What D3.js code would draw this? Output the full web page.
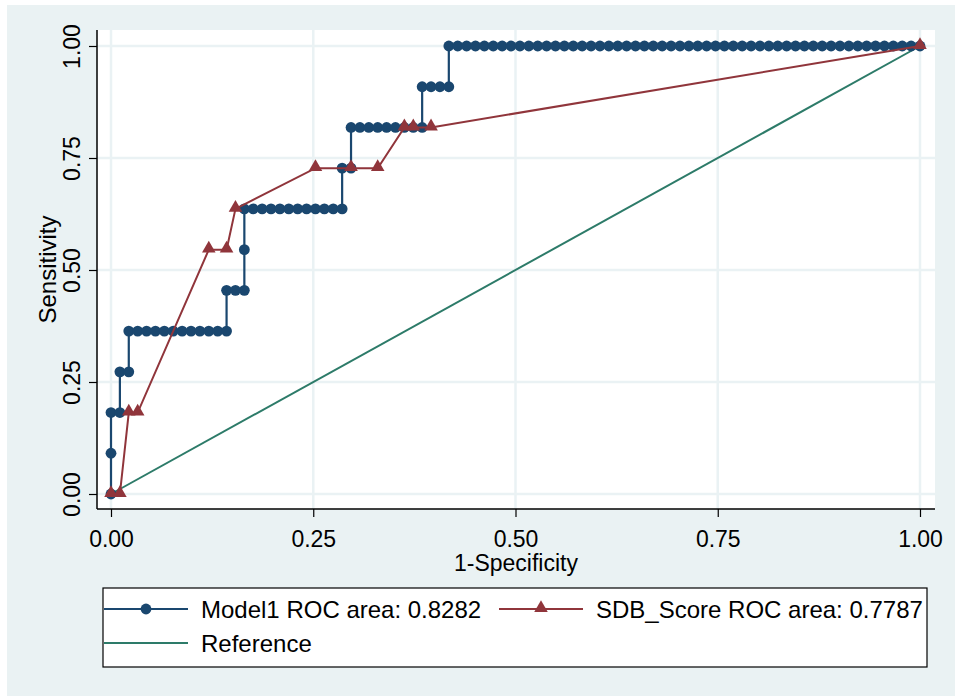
<!DOCTYPE html>
<html>
<head>
<meta charset="utf-8">
<script src="https://cdn.jsdelivr.net/npm/d3@7"></script>
<style>
  body { margin: 0; background: #fff; }
  svg text { font-family: "Liberation Sans", Arial, sans-serif; fill: #000; }
</style>
</head>
<body>
<div id="chart"></div>
<script>
// counts: 91 negatives, 11 positives
const N_NEG = 91;
const N_POS = 11;

// Model1: false positives / true positives at each cutoff
const model1FP = [0, 0, 0, 1, 1, 2, 2, 3, 4, 5, 6, 7, 8, 9, 10, 11, 12, 13, 13, 14, 15, 15, 15,
  16, 17, 18, 19, 20, 21, 22, 23, 24, 25, 26, 26, 27, 27, 28, 29, 30, 31, 32, 33, 34, 35, 35,
  36, 37, 38, 38, 39, 40, 41, 42, 43, 44, 45, 46, 47, 48, 49, 50, 51, 52, 53, 54, 55, 56, 57,
  58, 59, 60, 61, 62, 63, 64, 65, 66, 67, 68, 69, 70, 71, 72, 73, 74, 75, 76, 77, 78, 79, 80,
  81, 82, 83, 84, 85, 86, 87, 88, 89, 90, 91];
const model1TP = [0, 1, 2, 2, 3, 3, 4, 4, 4, 4, 4, 4, 4, 4, 4, 4, 4, 4, 5, 5, 5, 6, 7,
  7, 7, 7, 7, 7, 7, 7, 7, 7, 7, 7, 8, 8, 9, 9, 9, 9, 9, 9, 9, 9, 9, 10,
  10, 10, 10, 11, 11, 11, 11, 11, 11, 11, 11, 11, 11, 11, 11, 11, 11, 11, 11, 11, 11, 11, 11,
  11, 11, 11, 11, 11, 11, 11, 11, 11, 11, 11, 11, 11, 11, 11, 11, 11, 11, 11, 11, 11, 11, 11,
  11, 11, 11, 11, 11, 11, 11, 11, 11, 11, 11];

// SDB_Score
const sdbFP = [0, 1, 2, 3, 11, 13, 14, 23, 27, 30, 33, 34, 36, 91];
const sdbTP = [0, 0, 2, 2, 6, 6, 7, 8, 8, 8, 9, 9, 9, 11];

// Reference diagonal
const refX = [0, 1];
const refY = [0, 1];

const ticks = [0, 0.25, 0.5, 0.75, 1];
const legendLabels = ["Model1 ROC area: 0.8282", "SDB_Score ROC area: 0.7787", "Reference"];
const colors = { model1: "#1A476F", sdb: "#90353B", ref: "#2D7B69" };

const width = 955, height = 696;
const plot = { left: 97, right: 935, top: 30, bottom: 509 };

const svg = d3.select("#chart").append("svg")
  .attr("width", width)
  .attr("height", height);

// graph region background
svg.append("rect")
  .attr("x", 7).attr("y", 5)
  .attr("width", width - 7).attr("height", height - 5)
  .attr("fill", "#EAF2F3");

svg.append("rect")
  .attr("x", plot.left).attr("y", plot.top)
  .attr("width", plot.right - plot.left)
  .attr("height", plot.bottom - plot.top)
  .attr("fill", "#fff");

const xScale = d3.scaleLinear().domain([0, 1]).range([111, 920]);
const yScale = d3.scaleLinear().domain([0, 1]).range([494, 46]);

// grid
svg.append("g").selectAll("line.vg")
  .data(ticks).join("line")
  .attr("x1", d => xScale(d)).attr("x2", d => xScale(d))
  .attr("y1", plot.top).attr("y2", plot.bottom)
  .attr("stroke", "#EAF2F4").attr("stroke-width", 2.5);
svg.append("g").selectAll("line.hg")
  .data(ticks).join("line")
  .attr("x1", plot.left).attr("x2", plot.right)
  .attr("y1", d => yScale(d)).attr("y2", d => yScale(d))
  .attr("stroke", "#EAF2F4").attr("stroke-width", 2.5);

// axes
const xAxis = d3.axisBottom(xScale).tickValues(ticks).tickSize(8).tickPadding(14)
  .tickFormat(d3.format(".2f"));
const gx = svg.append("g")
  .attr("transform", "translate(0," + plot.bottom + ")")
  .call(xAxis);
gx.select(".domain").remove();
gx.selectAll("line").attr("stroke", "#000").attr("stroke-width", 1.2);
gx.selectAll("text").attr("font-size", 23)
  .attr("font-family", "Liberation Sans, Arial, sans-serif");

const yAxis = d3.axisLeft(yScale).tickValues(ticks).tickSize(8).tickPadding(6)
  .tickFormat(d3.format(".2f"));
const gy = svg.append("g")
  .attr("transform", "translate(" + plot.left + ",0)")
  .call(yAxis);
gy.select(".domain").remove();
gy.selectAll("line").attr("stroke", "#000").attr("stroke-width", 1.2);
gy.selectAll("text")
  .attr("font-size", 23)
  .attr("font-family", "Liberation Sans, Arial, sans-serif")
  .attr("text-anchor", "middle")
  .attr("dy", 0)
  .attr("x", 0).attr("y", 0)
  .attr("transform", "translate(-17,0) rotate(-90)");

svg.append("line")
  .attr("x1", plot.left).attr("x2", plot.left)
  .attr("y1", plot.top).attr("y2", plot.bottom)
  .attr("stroke", "#000").attr("stroke-width", 1.5);
svg.append("line")
  .attr("x1", plot.left).attr("x2", plot.right)
  .attr("y1", plot.bottom).attr("y2", plot.bottom)
  .attr("stroke", "#000").attr("stroke-width", 1.5);

// axis titles
svg.append("text")
  .attr("x", (plot.left + plot.right) / 2).attr("y", 571)
  .attr("text-anchor", "middle").attr("font-size", 23)
  .text("1-Specificity");
svg.append("text")
  .attr("transform", "translate(56," + ((plot.top + plot.bottom) / 2) + ") rotate(-90)")
  .attr("text-anchor", "middle").attr("font-size", 24)
  .text("Sensitivity");

// series
const line = d3.line().x(d => xScale(d[0])).y(d => yScale(d[1]));
const model1 = model1FP.map((fp, i) => [fp / N_NEG, model1TP[i] / N_POS]);
const sdb = sdbFP.map((fp, i) => [fp / N_NEG, sdbTP[i] / N_POS]);
const ref = refX.map((x, i) => [x, refY[i]]);

const triangle = d3.symbol().type(d3.symbolTriangle).size(80);

svg.append("path").datum(ref)
  .attr("d", line).attr("fill", "none")
  .attr("stroke", colors.ref).attr("stroke-width", 2);

svg.append("path").datum(model1)
  .attr("d", line).attr("fill", "none")
  .attr("stroke", colors.model1).attr("stroke-width", 2.2);
svg.append("g").selectAll("circle")
  .data(model1).join("circle")
  .attr("cx", d => xScale(d[0])).attr("cy", d => yScale(d[1]))
  .attr("r", 5.4).attr("fill", colors.model1);

svg.append("path").datum(sdb)
  .attr("d", line).attr("fill", "none")
  .attr("stroke", colors.sdb).attr("stroke-width", 2);
svg.append("g").selectAll("path.tri")
  .data(sdb).join("path")
  .attr("transform", d => "translate(" + xScale(d[0]) + "," + (yScale(d[1]) - 1) + ")")
  .attr("d", triangle).attr("fill", colors.sdb);

// legend
const lg = svg.append("g");
lg.append("rect")
  .attr("x", 103).attr("y", 588)
  .attr("width", 824).attr("height", 79)
  .attr("fill", "#fff").attr("stroke", "#000").attr("stroke-width", 1.2);

const legendItems = [
  { x: 104, y: 609, color: colors.model1, mark: "circle", label: legendLabels[0] },
  { x: 499, y: 609, color: colors.sdb, mark: "triangle", label: legendLabels[1] },
  { x: 104, y: 643, color: colors.ref, mark: null, label: legendLabels[2] }
];
legendItems.forEach(it => {
  lg.append("line")
    .attr("x1", it.x).attr("x2", it.x + 84)
    .attr("y1", it.y).attr("y2", it.y)
    .attr("stroke", it.color).attr("stroke-width", 2);
  if (it.mark === "circle") {
    lg.append("circle").attr("cx", it.x + 42).attr("cy", it.y)
      .attr("r", 5.4).attr("fill", it.color);
  } else if (it.mark === "triangle") {
    lg.append("path").attr("d", triangle)
      .attr("transform", "translate(" + (it.x + 42) + "," + (it.y - 1) + ")")
      .attr("fill", it.color);
  }
  lg.append("text")
    .attr("x", it.x + 97).attr("y", it.y + 8.5)
    .attr("font-size", 24)
    .text(it.label);
});
</script>
</body>
</html>
